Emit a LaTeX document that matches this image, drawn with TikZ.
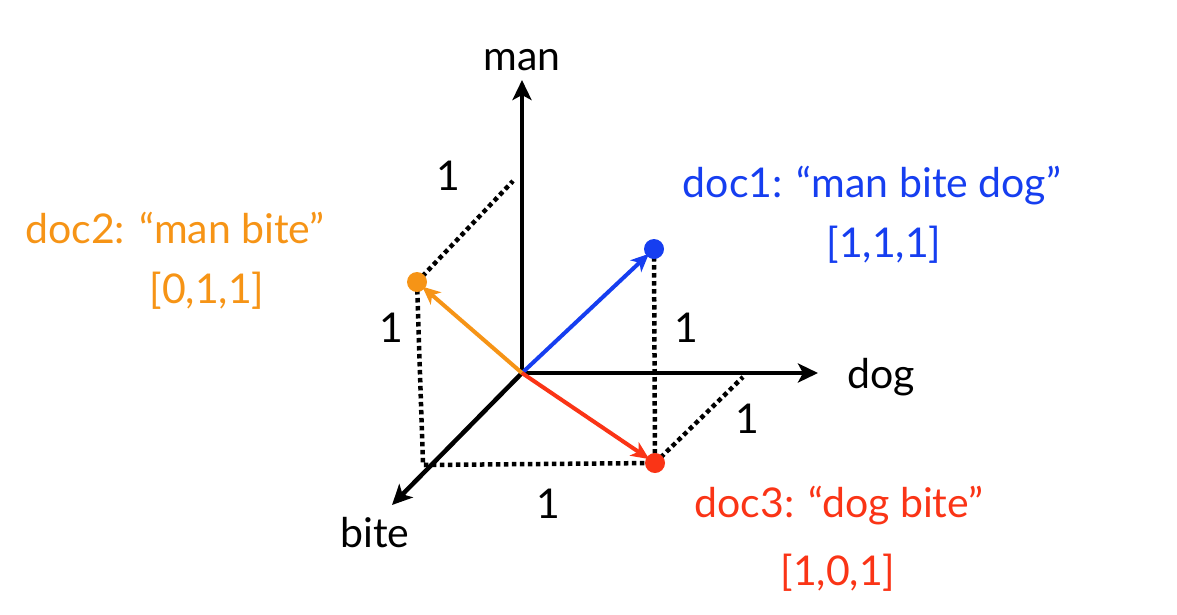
\documentclass[tikz,border=0pt]{standalone}
\usepackage{fontspec}
\setmainfont{Lato}
\usetikzlibrary{arrows.meta}
\definecolor{docazul}{RGB}{22,62,240}
\definecolor{docnaranja}{RGB}{246,148,22}
\definecolor{docrojo}{RGB}{250,52,22}
\tikzset{
  eje/.style={line width=4.5pt, -{Stealth[length=20pt,width=19pt,inset=5pt]}},
  vector/.style={line width=4pt, -{Stealth[length=18pt,width=16pt,inset=5pt]}, shorten >=7pt},
  punteado/.style={line width=4.5pt, dash pattern=on 4.5pt off 3.5pt},
  etiqueta/.style={anchor=base, font=\fontsize{41}{48}\selectfont},
}
\begin{document}
\begin{tikzpicture}[x=1pt, y=-1pt]
    \useasboundingbox (0,0) rectangle (1177,614);

    % Puntos de los documentos
    \coordinate (O) at (522,373);
    \coordinate (d1) at (654,249);
    \coordinate (d2) at (417,282);
    \coordinate (d3) at (655,463);
    \coordinate (manT) at (513,181);
    \coordinate (biteB) at (423,465);
    \coordinate (dogE) at (743,377);

    % Lineas punteadas
    \draw[punteado] (d2) -- (manT);
    \draw[punteado] (d2) -- (biteB) -- (d3);
    \draw[punteado] (d1) -- (d3);
    \draw[punteado] (d3) -- (dogE);

    % Ejes coordenados
    \coordinate (manA) at (522,80);
    \coordinate (dogA) at (818,373);
    \coordinate (biteA) at (392,505);
    \draw[eje] (O) -- (manA);
    \draw[eje] (O) -- (dogA);
    \draw[eje] (O) -- (biteA);
    \node[etiqueta] (man) at (522,70) {man};
    \node[etiqueta] (dog) at (881,388) {dog};
    \node[etiqueta] (bite) at (375,547) {bite};

    % Vectores
    \draw[vector, docazul] (O) -- (d1);
    \draw[vector, docnaranja] (O) -- (d2);
    \draw[vector, docrojo] (O) -- (d3);
    \fill[docazul] (d1) circle (10);
    \fill[docnaranja] (d2) circle (10);
    \fill[docrojo] (d3) circle (10);

    % Distancias unitarias
    \node[etiqueta] (u1) at (448,190) {1};
    \node[etiqueta] (u2) at (391,342) {1};
    \node[etiqueta] (u3) at (686,342) {1};
    \node[etiqueta] (u4) at (747,433) {1};
    \node[etiqueta] (u5) at (548,518) {1};

    % Textos de los documentos
    \node[etiqueta, docazul] (t1) at (872,197) {doc1: “man bite dog”};
    \node[etiqueta, docazul] (v1) at (884,257) {[1,1,1]};
    \node[etiqueta, docnaranja] (t2) at (175,243) {doc2: “man bite”};
    \node[etiqueta, docnaranja] (v2) at (207,303) {[0,1,1]};
    \node[etiqueta, docrojo] (t3) at (839,517) {doc3: “dog bite”};
    \node[etiqueta, docrojo] (v3) at (838,585) {[1,0,1]};
\end{tikzpicture}
\end{document}
